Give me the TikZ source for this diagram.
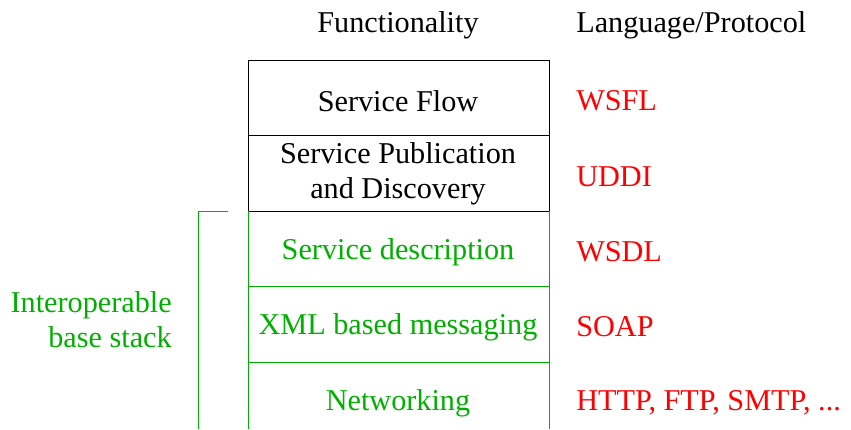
\documentclass[tikz,border=0pt]{standalone}
\usepackage{fontspec}
\setmainfont{LiberationSerif}[Extension=.ttf,UprightFont=*-Regular,BoldFont=*-Bold,ItalicFont=*-Italic,BoldItalicFont=*-BoldItalic]
\definecolor{stackGreen}{RGB}{0,176,0}

\begin{document}
\begin{tikzpicture}[x=0.025cm,y=-0.025cm,%%
  blackLineStyle/.style={-,line width=0.7pt,black},%%
  greenLineStyle/.style={-,line width=0.7pt,stackGreen},%%
  textStyle/.style={font=\fontsize{21.5}{25}\selectfont,align=center,inner sep=0pt},%%
  greenTextStyle/.style={textStyle,text=stackGreen},%%
  protoStyle/.style={textStyle,text=red,anchor=west}%%
]
%%
\useasboundingbox (0,0) rectangle (851,429);
%%
\pgfmathsetmacro{\xleft}{248}  %% left side of the stack
\pgfmathsetmacro{\xright}{549} %% right side of the stack
\pgfmathsetmacro{\xproto}{576} %% left edge of the protocol column
\pgfmathsetmacro{\xbrace}{198} %% the bracket of the base stack
%%
%% Headings.
\node[textStyle] (funcHead) at (398,25) {Functionality};
\node[textStyle,anchor=west] (protoHead) at (\xproto,25) {Language/Protocol};
%%
%% The two upper layers, in black.
\draw[blackLineStyle] (\xleft,211) -- (\xleft,60) -- (\xright,60) -- (\xright,211);
\draw[blackLineStyle] (\xleft,135) -- (\xright,135);
\draw[blackLineStyle] (\xleft,211) -- (\xright,211);
\node[textStyle] (flow) at (398,101) {Service Flow};
\node[textStyle] (publish) at (398,174) {Service Publication\\and Discovery};
%%
%% The interoperable base stack, in green.  It has no bottom line.
\draw[greenLineStyle] (\xleft,211) -- (\xleft,429);
\draw[greenLineStyle] (\xright,211) -- (\xright,429);
\draw[greenLineStyle] (\xleft,286) -- (\xright,286);
\draw[greenLineStyle] (\xleft,362) -- (\xright,362);
\node[greenTextStyle] (describe) at (398,252) {Service description};
\node[greenTextStyle] (message) at (398,327) {XML based messaging};
\node[greenTextStyle] (network) at (398,403) {Networking};
%%
%% Bracket and label of the base stack.
\draw[greenLineStyle] (228,211) -- (\xbrace,211) -- (\xbrace,429);
\node[greenTextStyle,align=right,anchor=east] (baseLabel) at (172,320) {Interoperable\\base stack};
%%
%% Language/Protocol column.
\node[protoStyle] (wsfl) at (\xproto,101) {WSFL};
\node[protoStyle] (uddi) at (\xproto,177) {UDDI};
\node[protoStyle] (wsdl) at (\xproto,252) {WSDL};
\node[protoStyle] (soap) at (\xproto,327) {SOAP};
\node[protoStyle] (http) at (\xproto,403) {HTTP, FTP, SMTP, ...};
\end{tikzpicture}
\end{document}
